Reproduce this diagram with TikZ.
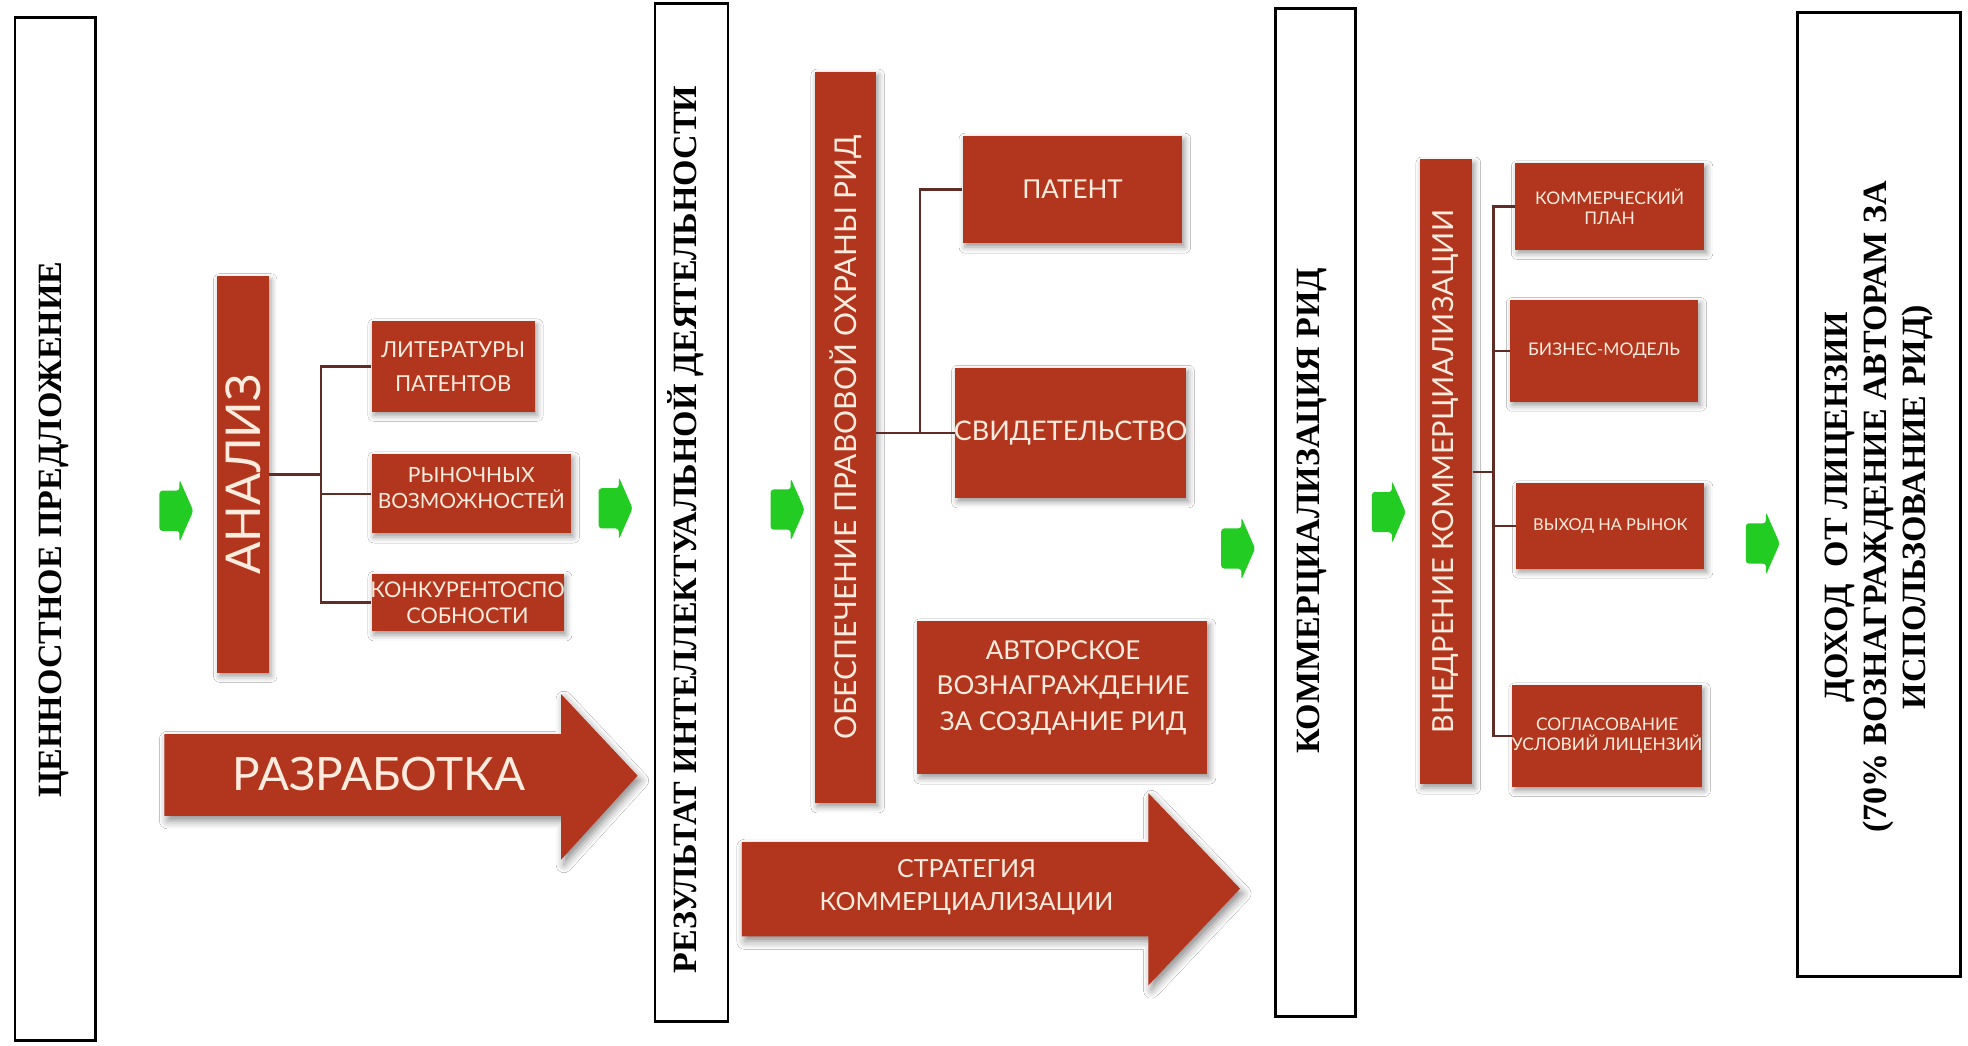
\documentclass[tikz,border=0pt]{standalone}
\usepackage{fontspec}
\setmainfont{Liberation Serif}
\newfontfamily\gothic{Lato}
\usetikzlibrary{fit,shadows.blur}
\definecolor{rid}{RGB}{178,54,30}
\definecolor{cream}{RGB}{255,236,222}
\definecolor{connc}{RGB}{95,45,38}
\definecolor{grn}{RGB}{34,204,34}
\newcommand\fsz[2]{\fontsize{#1pt}{#2pt}\selectfont}
\tikzset{
  redbox/.style={fill=rid, draw=none, inner sep=0pt,
    blur shadow={shadow xshift=1.2pt, shadow yshift=-1.8pt, shadow blur radius=3pt, shadow opacity=40}},
  redshape/.style={fill=rid,
    blur shadow={shadow xshift=1.5pt, shadow yshift=-2.5pt, shadow blur radius=4pt, shadow opacity=45}},
  framebox/.style={draw=black, line width=1.3pt, inner sep=0pt},
  btext/.style={rotate=90, align=center, font=\bfseries\fsz{17}{19.5}},
  ctext/.style={text=cream, align=center, inner sep=0pt},
  conn/.style={draw=connc, line width=1.1pt},
  pics/garrow/.style={code={
    \fill[grn, rounded corners=1.5] (-13,-16) -- (3,-16) -- (3,-25) -- (14,0) -- (3,25) -- (3,16) -- (-13,16) -- cycle;}}
}
\begin{document}
\begin{tikzpicture}[x=0.6276pt,y=-0.6276pt]
\useasboundingbox[fill=white] (0,0) rectangle (1568,833);

% ---- black frames ----
\node[framebox, fit={(12,14) (76,829)}] (f1) {};
\node[btext] (t1) at (43,422) {ЦЕННОСТНОЕ ПРЕДЛОЖЕНИЕ};
\node[framebox, fit={(522,3) (580,814)}] (f2) {};
\node[btext] (t2) at (546,422) {РЕЗУЛЬТАТ ИНТЕЛЛЕКТУАЛЬНОЙ ДЕЯТЕЛЬНОСТИ};
\node[framebox, fit={(1016,7) (1080,810)}] (f3) {};
\node[btext] (t3) at (1045,407) {КОММЕРЦИАЛИЗАЦИЯ РИД};
\node[framebox, fit={(1432,10) (1562,778)}] (f4) {};
\node[btext] (t4) at (1497,404) {ДОХОД\ \ ОТ ЛИЦЕНЗИИ\\(70\% ВОЗНАГРАЖДЕНИЕ АВТОРАМ ЗА\\ИСПОЛЬЗОВАНИЕ РИД)};

% ---- analysis block ----
\node[redbox, fit={(173,220) (214,536)}] (anal) {};
\node[ctext, rotate=90, font=\gothic\fsz{24}{28}] (analt) at (anal.center) {АНАЛИЗ};
\node[redbox, fit={(296,256) (426,328)}] (lit) {};
\node[ctext, font=\gothic\fsz{11}{17}] (litt) at (lit.center) {ЛИТЕРАТУРЫ\\ПАТЕНТОВ};
\node[redbox, fit={(296,362) (455,425)}] (ryn) {};
\node[ctext, font=\gothic\fsz{10.5}{13}] (rynt) at ([yshift=3pt]ryn.center) {РЫНОЧНЫХ\\ВОЗМОЖНОСТЕЙ};
\node[redbox, fit={(296,457) (449,503)}] (konk) {};
\node[ctext, font=\gothic\fsz{10.8}{13}] (konkt) at (konk.center) {КОНКУРЕНТОСПО\\СОБНОСТИ};
\coordinate (aj) at (256,378);
\draw[conn] (anal.east) -- (aj);
\draw[conn] (lit.west) -| (aj) |- (konk.west);
\draw[conn] (ryn.west) -- (ryn.west -| aj);

% ---- development arrow ----
\fill[redshape] (131,585) -- (447,585) -- (447,553) -- (508,618) -- (447,685) -- (447,650) -- (131,650) -- cycle;
\node[ctext, font=\gothic\fsz{23}{26}] (razr) at (302,617) {РАЗРАБОТКА};

% ---- protection block ----
\node[redbox, fit={(649,57) (698,640)}] (prot) {};
\node[ctext, rotate=90, font=\gothic\fsz{15}{18}] (prott) at (prot.center) {ОБЕСПЕЧЕНИЕ ПРАВОВОЙ ОХРАНЫ РИД};
\node[redbox, fit={(767,108) (942,194)}] (pat) {};
\node[ctext, font=\gothic\fsz{13}{16}] (patt) at (pat.center) {ПАТЕНТ};
\node[redbox, fit={(761,293) (945,397)}] (svid) {};
\node[ctext, font=\gothic\fsz{13.5}{16}] (svidt) at (svid.center) {СВИДЕТЕЛЬСТВО};
\coordinate (pj) at (733,345);
\draw[conn] (prot.east |- svid.west) -- (svid.west);
\draw[conn] (pat.west) -| (pj);
\node[redbox, fit={(731,495) (962,617)}] (avt) {};
\node[ctext, font=\gothic\fsz{13}{17.6}] (avtt) at (847,548) {АВТОРСКОЕ\\ВОЗНАГРАЖДЕНИЕ\\ЗА СОЗДАНИЕ РИД};

% ---- strategy arrow ----
\fill[redshape] (591,671) -- (915,671) -- (915,632) -- (988,708) -- (915,785) -- (915,746) -- (591,746) -- cycle;
\node[ctext, font=\gothic\fsz{12.5}{16.3}] (strat) at (770,707) {СТРАТЕГИЯ\\КОММЕРЦИАЛИЗАЦИИ};

% ---- implementation block ----
\node[redbox, fit={(1131,127) (1173,625)}] (vnedr) {};
\node[ctext, rotate=90, font=\gothic\fsz{14.5}{17}] (vnedrt) at (vnedr.center) {ВНЕДРЕНИЕ КОММЕРЦИАЛИЗАЦИИ};
\node[redbox, fit={(1207,130) (1358,199)}] (kp) {};
\node[ctext, font=\gothic\fsz{8.7}{10}] (kpt) at (kp.center) {КОММЕРЧЕСКИЙ\\ПЛАН};
\node[redbox, fit={(1203,239) (1353,320)}] (bm) {};
\node[ctext, font=\gothic\fsz{8.7}{10}] (bmt) at (bm.center) {БИЗНЕС-МОДЕЛЬ};
\node[redbox, fit={(1208,385) (1358,453)}] (vr) {};
\node[ctext, font=\gothic\fsz{8.2}{10}] (vrt) at (vr.center) {ВЫХОД НА РЫНОК};
\node[redbox, fit={(1205,546) (1356,627)}] (sl) {};
\node[ctext, font=\gothic\fsz{8.7}{10}] (slt) at (sl.center) {СОГЛАСОВАНИЕ\\УСЛОВИЙ ЛИЦЕНЗИЙ};
\coordinate (vj) at (1190,376);
\draw[conn] (vnedr.east) -- (vj);
\draw[conn] (kp.west) -| (vj) |- (sl.west);
\draw[conn] (bm.west) -- (bm.west -| vj);
\draw[conn] (vr.west) -- (vr.west -| vj);

% ---- green arrows ----
\pic at (140,407) {garrow};
\pic at (490,405) {garrow};
\pic at (627,406) {garrow};
\pic at (986,437) {garrow};
\pic at (1106,408) {garrow};
\pic at (1404,433) {garrow};
\end{tikzpicture}
\end{document}
